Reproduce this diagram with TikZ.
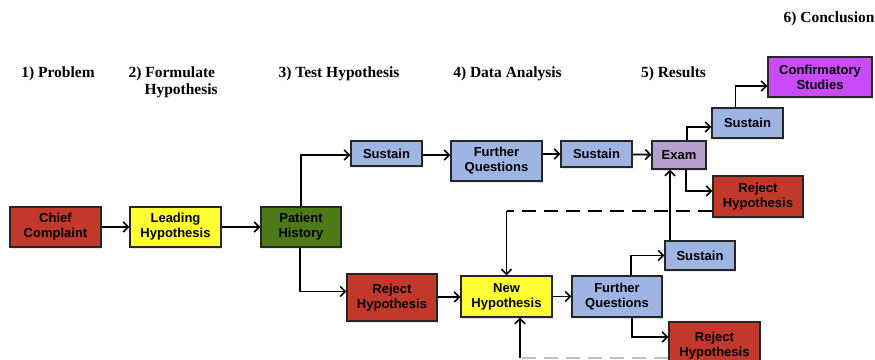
\documentclass[tikz,border=0pt]{standalone}
\usepackage{fontspec}
\setmainfont{Liberation Serif}
\setsansfont{Liberation Sans}
\usetikzlibrary{shadows,arrows.meta}

\definecolor{rejectred}{RGB}{194,57,43}
\definecolor{hypoyellow}{RGB}{255,255,51}
\definecolor{historygreen}{RGB}{77,122,22}
\definecolor{sustainblue}{RGB}{158,180,226}
\definecolor{exampurple}{RGB}{183,160,205}
\definecolor{confirmpink}{RGB}{201,74,247}

\tikzset{
	>={Straight Barb[length=5pt,width=10pt,line width=1.6pt]},
	box/.style={draw=black!85, line width=1.3pt, align=center, inner sep=0pt,
		font=\sffamily\bfseries\fontsize{13}{15}\selectfont,
		drop shadow={opacity=0.2, shadow xshift=1pt, shadow yshift=-1.5pt}},
	arr/.style={->, line width=1.8pt},
	stage/.style={font=\bfseries\fontsize{15.5}{17}\selectfont, align=left}
}

\begin{document}
\begin{tikzpicture}[x=1pt,y=-1pt]
		\useasboundingbox (0,0) rectangle (875,359);
		\clip (0,0) rectangle (875,359);
		% stage headings
		\foreach \name/\x/\y/\txt in {p1/58/74/{1) Problem}, p3/339/74/{3) Test Hypothesis},
			p4/507.5/74/{4) Data Analysis}, p5/673.5/74/{5) Results}, p6/829/19/{6) Conclusion}}
			{
			\node[stage] (\name) at (\x,\y) {\txt};
			}
		\node[stage, anchor=north west] (p2) at (125,63) {2) Formulate\\\hspace*{16pt}Hypothesis};

		% first line
		\node[box, fill=rejectred, minimum width=91pt, minimum height=40pt] (cc) at (55.5,227) {Chief\\Complaint};
		\node[box, fill=hypoyellow, minimum width=91pt, minimum height=40pt] (lh) at (175.5,227) {Leading\\Hypothesis};
		\node[box, fill=historygreen, minimum width=80pt, minimum height=40pt] (ph) at (301,227) {Patient\\History};

		% sustain branch
		\node[box, fill=sustainblue, minimum width=71pt, minimum height=25pt] (s1) at (386.5,153.5) {Sustain};
		\node[box, fill=sustainblue, minimum width=91pt, minimum height=40pt] (fq1) at (496.5,161) {Further\\Questions};
		\node[box, fill=sustainblue, minimum width=71pt, minimum height=26pt] (s2) at (596.5,154) {Sustain};
		\node[box, fill=exampurple, minimum width=54pt, minimum height=28pt] (ex) at (679,155) {Exam};
		\node[box, fill=sustainblue, minimum width=71pt, minimum height=30pt] (s3) at (747.5,123) {Sustain};
		\node[box, fill=confirmpink, minimum width=104pt, minimum height=40pt] (cs) at (820,77) {Confirmatory\\Studies};
		\node[box, fill=rejectred, minimum width=90pt, minimum height=41pt] (rh2) at (758,196.5) {Reject\\Hypothesis};

		% reject branch
		\node[box, fill=rejectred, minimum width=90pt, minimum height=47pt] (rh1) at (392,297.5) {Reject\\Hypothesis};
		\node[box, fill=hypoyellow, minimum width=91pt, minimum height=41pt] (nh) at (506.5,296.5) {New\\Hypothesis};
		\node[box, fill=sustainblue, minimum width=90pt, minimum height=41pt] (fq2) at (617,296.5) {Further\\Questions};
		\node[box, fill=sustainblue, minimum width=70pt, minimum height=29pt] (s4) at (700,255.5) {Sustain};
		\node[box, fill=rejectred, minimum width=91pt, minimum height=47pt] (rh3) at (714.5,345.5) {Reject\\Hypothesis};

		% connectors
		\draw[arr] (cc) -- (lh);
		\draw[arr] (lh) -- (ph);
		\draw[arr] (ph.north) |- ([yshift=-1.5pt]s1.west);
		\draw[arr] ([xshift=-1pt]ph.south) |- ([yshift=6pt]rh1.west);
		\draw[arr] ([yshift=-1.5pt]s1.east) -- ([yshift=-1.5pt]s1.east -| fq1.west);
		\draw[arr] (s2.west -| fq1.east) -- (s2.west);
		\draw[arr] (s2) -- (ex);
		\draw[arr] ([xshift=8pt]ex.north) |- ([yshift=-4pt]s3.west);
		\draw[arr] ([xshift=-12pt]s3.north) |- ([yshift=-9pt]cs.west);
		\draw[arr] ([xshift=7pt]ex.south) |- ([yshift=5.5pt]rh2.west);
		\coordinate (top turn) at ([yshift=-14.5pt]rh2.west -| nh.north);
		\draw[line width=1.8pt, dash pattern=on 14pt off 8pt] ([yshift=-14.5pt]rh2.west) -- (top turn);
		\draw[arr] (top turn) -- (nh.north);
		\draw[arr] (rh1) -- (nh);
		\draw[arr] (nh) -- (fq2);
		\draw[arr] ([xshift=14pt]fq2.north) |- (s4.west);
		\draw[arr] ([xshift=-30pt]s4.north) -- ([xshift=-30pt]s4.north |- ex.south);
		\draw[arr] ([xshift=15pt]fq2.south) |- ([yshift=8.5pt]rh3.west);
		\coordinate (nh low) at ([xshift=13.5pt]nh.south);
		\coordinate (low turn) at ([yshift=-12.5pt]rh3.west -| nh low);
		\draw[line width=1.8pt, dash pattern=on 14pt off 8pt, black!25] ([yshift=-12.5pt]rh3.west) -- (low turn);
		\draw[arr] (low turn) -- (nh low);
	\end{tikzpicture}
\end{document}
